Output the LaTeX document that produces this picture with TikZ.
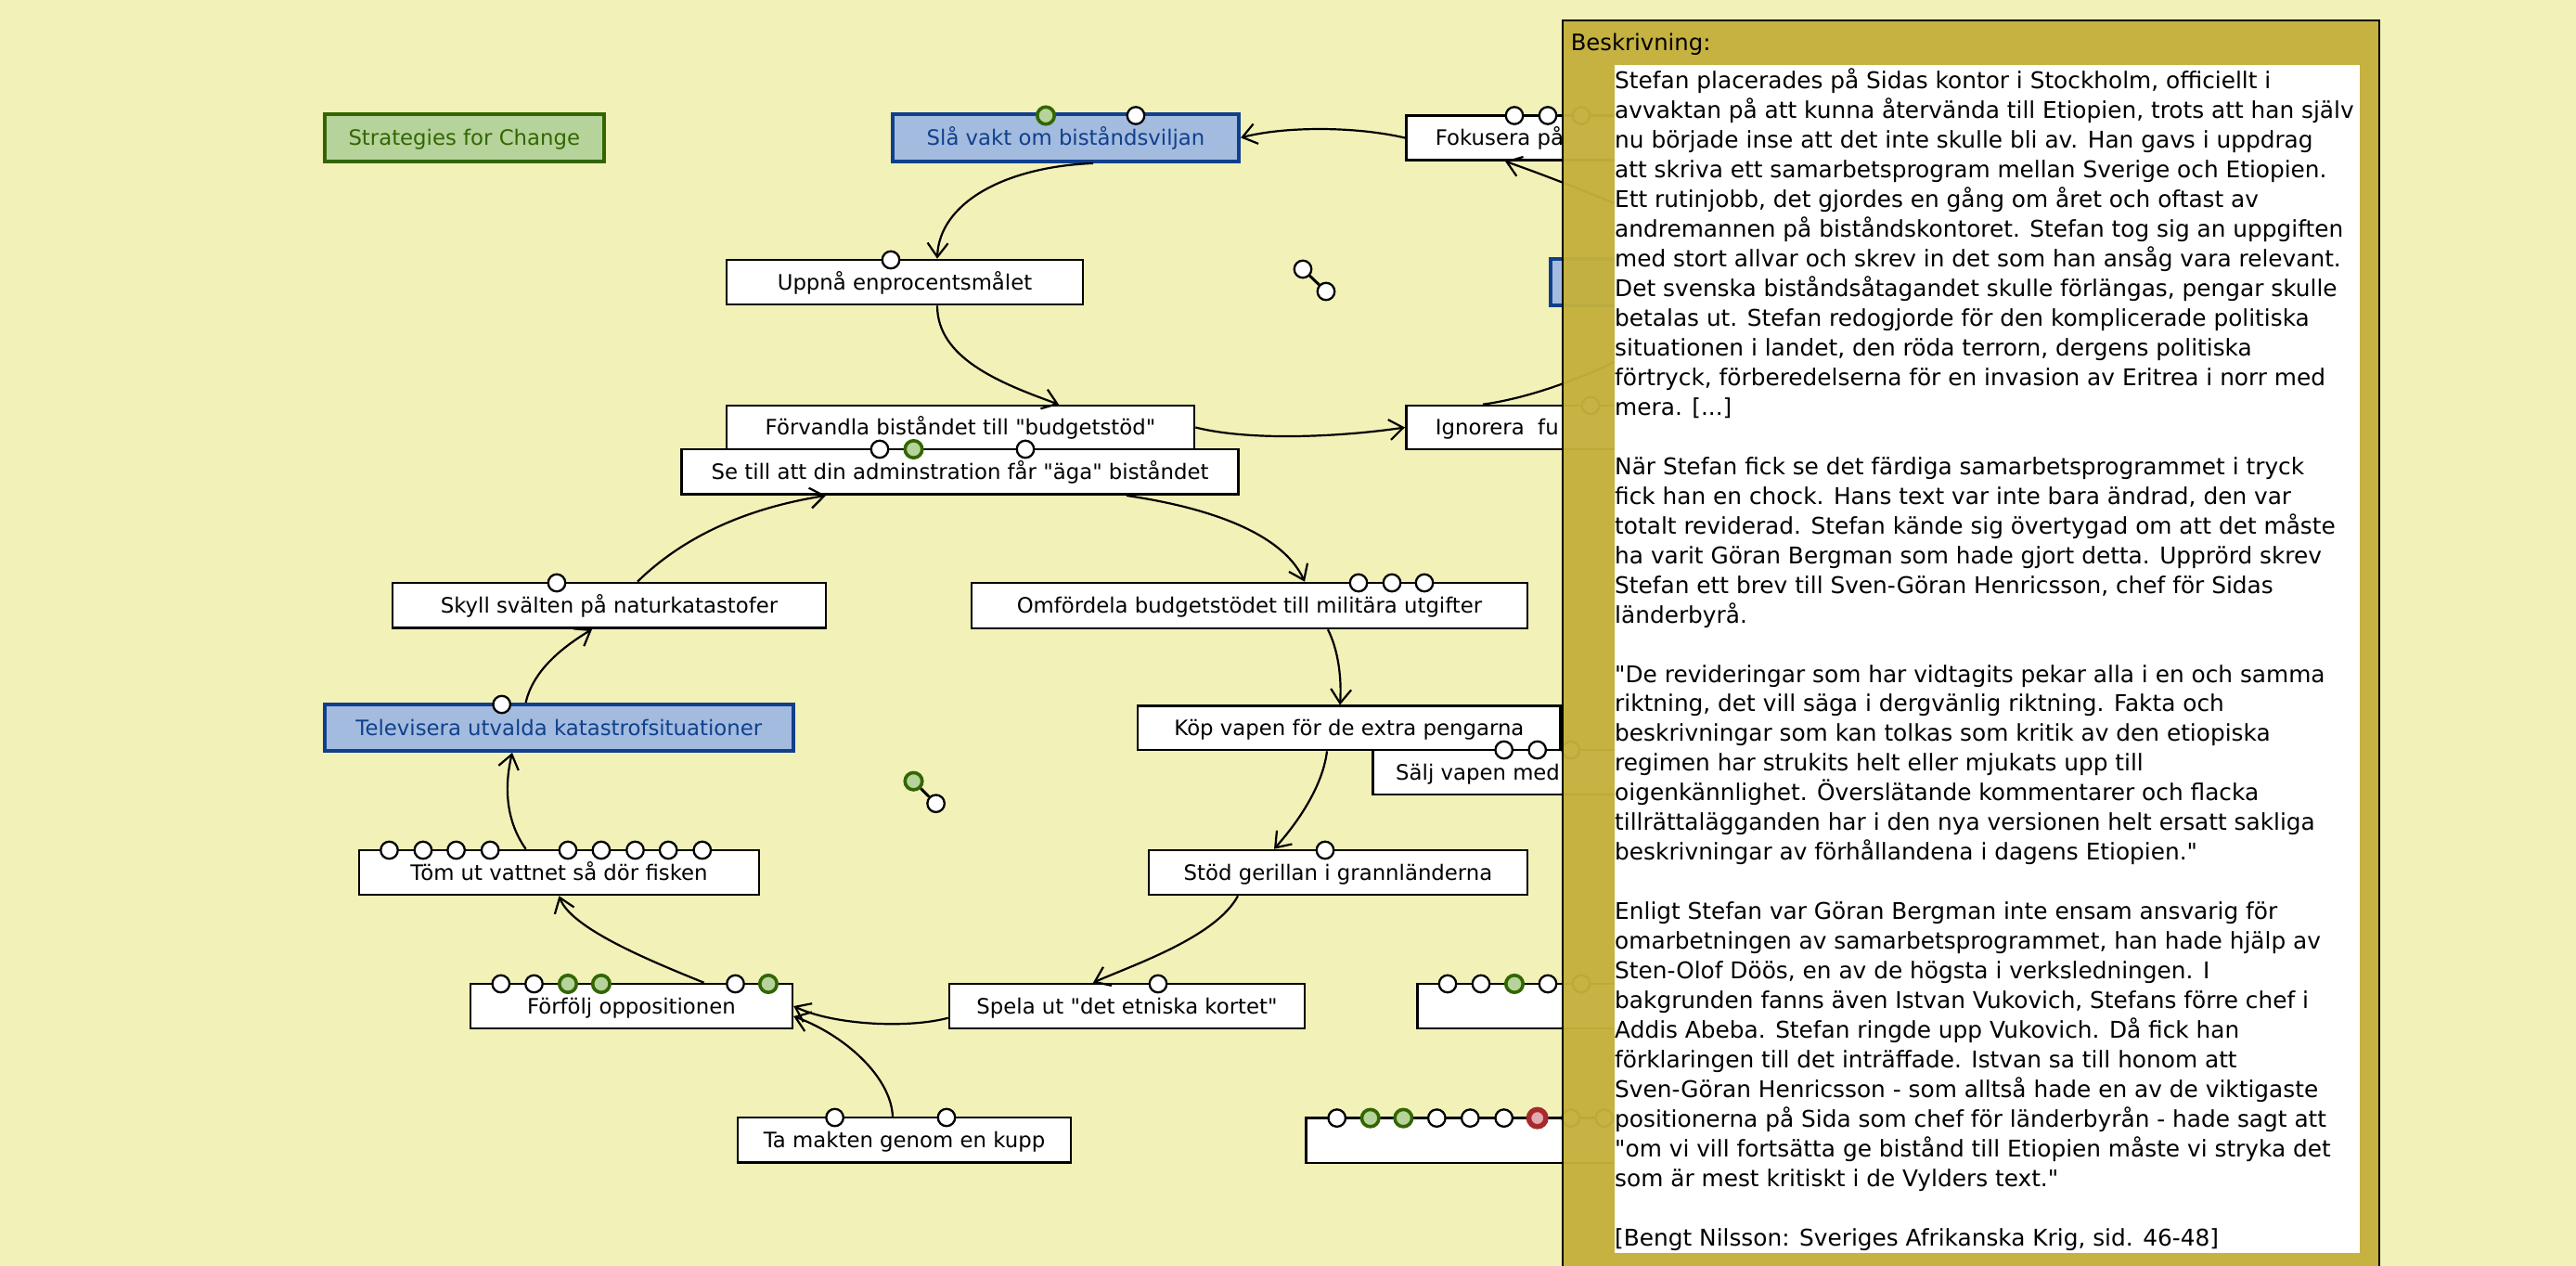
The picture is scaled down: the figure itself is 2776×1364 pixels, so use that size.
\documentclass[tikz,border=0pt]{standalone}
\usepackage{fontspec}
\setmainfont[Ligatures=TeXOff]{DejaVu Sans}
\usetikzlibrary{arrows.meta}
\definecolor{bgc}{RGB}{242,241,184}
\definecolor{panelc}{RGB}{196,176,60}
\definecolor{bluef}{RGB}{163,187,223}
\definecolor{blued}{RGB}{16,64,140}
\definecolor{greenf}{RGB}{181,211,154}
\definecolor{greend}{RGB}{51,102,0}
\definecolor{redd}{RGB}{168,42,42}
\definecolor{redf}{RGB}{226,170,178}
\tikzset{
 boxf/.style={font=\fontsize{22.8}{27}\selectfont},
 wbox/.style={draw=black, line width=2.6pt, fill=white, minimum height=48pt, inner sep=0pt, text height=16.6pt, text depth=0pt, boxf},
 bbox/.style={wbox, draw=blued, fill=bluef, text=blued, line width=4pt},
 gbox/.style={wbox, draw=greend, fill=greenf, text=greend, line width=4pt},
 wc/.style={circle, draw=black, fill=white, line width=2.3pt, minimum size=18.5pt, inner sep=0pt},
 gc/.style={wc, draw=greend, fill=greenf, line width=3.6pt},
 rc/.style={wc, draw=redd, fill=redf, line width=5.5pt},
 conn/.style={draw=black, line width=2.2pt, -{Straight Barb[length=15pt,width=22pt]}},
 plainc/.style={draw=black, line width=2.2pt},
 ptxt/.style={anchor=base west, inner sep=0pt, font=\fontsize{24.8}{30}\selectfont},
 lbl/.style={anchor=west, inner sep=0pt, text height=16.6pt, text depth=0pt, boxf}
}
\begin{document}
\begin{tikzpicture}[x=1pt,y=-1pt]
\useasboundingbox (0,0) rectangle (2776,1364);
\fill[bgc] (0,0) rectangle (2776,1364);

% boxes
\node[gbox, minimum width=301pt, minimum height=51pt] (strat) at (500.3,148.5) {Strategies for Change};
\node[bbox, minimum width=373pt, minimum height=51pt] (slavakt) at (1148.5,148.4) {Slå vakt om biståndsviljan};
\node[wbox, minimum width=440pt, anchor=west] (fokusera) at (1514,148.5) {};
\node[lbl] (fokuseraT) at (1546.7,148.5) {Fokusera på};
\node[bbox, minimum width=300pt, minimum height=50pt, anchor=west] (hidblue) at (1669,304) {};
\node[wbox, minimum width=384pt] (uppna) at (975,304) {Uppnå enprocentsmålet};
\node[wbox, minimum width=504pt, minimum height=47pt] (forvandla) at (1035,460.5) {Förvandla biståndet till "budgetstöd"};
\node[wbox, minimum width=440pt, minimum height=47pt, anchor=west] (ignorera) at (1514,460.5) {};
\node[lbl] (ignoreraT) at (1546.7,460.5) {Ignorera\ \ fu};
\node[wbox, minimum width=600pt, minimum height=48.7pt] (setill) at (1034.5,508.3) {Se till att din adminstration får "äga" biståndet};
\node[wbox, minimum width=467pt, minimum height=48.7pt] (skyll) at (656.5,652.3) {Skyll svälten på naturkatastofer};
\node[wbox, minimum width=599pt, minimum height=49pt] (omfordela) at (1346.5,652.5) {Omfördela budgetstödet till militära utgifter};
\node[bbox, minimum width=505pt, minimum height=50pt] (televisera) at (602.3,784) {Televisera utvalda katastrofsituationer};
\node[wbox, minimum width=455.7pt, minimum height=47.3pt] (kop) at (1453.9,784.4) {Köp vapen för de extra pengarna};
\node[wbox, minimum width=480pt, anchor=west] (salj) at (1478,832) {};
\node[lbl] (saljT) at (1504,832) {Sälj vapen med};
\node[wbox, minimum width=408pt] (stod) at (1442,940) {Stöd gerillan i grannländerna};
\node[wbox, minimum width=431pt] (tom) at (602.5,940) {Töm ut vattnet så dör fisken};
\node[wbox, minimum width=347pt] (forfolj) at (680.4,1084) {Förfölj oppositionen};
\node[wbox, minimum width=383pt] (spela) at (1214.5,1084) {Spela ut "det etniska kortet"};
\node[wbox, minimum width=440pt, anchor=west] (rowbox) at (1526,1084) {};
\node[wbox, minimum width=359pt, minimum height=48.7pt] (tamakten) at (974.5,1228.4) {Ta makten genom en kupp};
\node[wbox, minimum width=540pt, minimum height=48.4pt, anchor=west] (exem) at (1406,1228.8) {};

% circles
\node[gc] (sv1) at (1127,124.5) {};
\node[wc] (sv2) at (1224,124.5) {};
\foreach \x [count=\i] in {1632,1668,1704} \node[wc] (fk\i) at (\x,124.5) {};
\node[wc] (up1) at (960,280) {};
\node[wc] (st1) at (948,484) {};
\node[gc] (st2) at (984.5,484) {};
\node[wc] (st3) at (1105,484) {};
\node[wc] (ig1) at (1714,437) {};
\node[wc] (sk1) at (600,628) {};
\foreach \x [count=\i] in {1464,1500,1535} \node[wc] (om\i) at (\x,628) {};
\node[wc] (tv1) at (540.7,759) {};
\foreach \x [count=\i] in {1620.7,1656.7,1692.7} \node[wc] (sa\i) at (\x,808) {};
\node[wc] (sd1) at (1428,916) {};
\foreach \x [count=\i] in {419.5,455.9,491.6,528.2,612,647.9,684.5,720.2,756.8} \node[wc] (tm\i) at (\x,916) {};
\node[wc] (ff1) at (539.8,1060) {};
\node[wc] (ff2) at (575.5,1060) {};
\node[gc] (ff3) at (612,1060) {};
\node[gc] (ff4) at (647.9,1060) {};
\node[wc] (ff5) at (792.5,1060) {};
\node[gc] (ff6) at (828,1060) {};
\node[wc] (sp1) at (1248,1060) {};
\node[wc] (rb1) at (1560,1060) {};
\node[wc] (rb2) at (1596,1060) {};
\node[gc] (rb3) at (1632,1060) {};
\node[wc] (rb4) at (1668,1060) {};
\node[wc] (rb5) at (1704,1060) {};
\node[wc] (tk1) at (899.6,1204) {};
\node[wc] (tk2) at (1020,1204) {};
\node[wc] (ex1) at (1440.7,1204.6) {};
\node[gc] (ex2) at (1476.7,1204.6) {};
\node[gc] (ex3) at (1512.3,1204.6) {};
\node[wc] (ex4) at (1548.3,1204.6) {};
\node[wc] (ex5) at (1584.3,1204.6) {};
\node[wc] (ex6) at (1620.7,1204.6) {};
\node[rc] (ex7) at (1656.7,1204.6) {};
\node[wc] (ex8) at (1692.7,1204.6) {};
\node[wc] (ex9) at (1728.7,1204.6) {};

% floating pairs
\node[wc] (fa1) at (1404,290) {};
\node[wc] (fa2) at (1429,314) {};
\draw[line width=3pt] (fa1) -- (fa2);
\node[gc] (fb1) at (984.5,841.7) {};
\node[wc] (fb2) at (1008.6,865.7) {};
\draw[line width=3pt] (fb1) -- (fb2);

% hidden ends
\coordinate (hidA) at (1790,240);
\coordinate (hidB) at (1770,375);

% connectors
\draw[conn] (fokusera.west) .. controls (1460,136) and (1385,136) .. (slavakt.east);
\draw[conn] ([xshift=29.5pt]slavakt.south) .. controls (1080,180) and (1012,220) .. ([xshift=35pt]uppna.north);
\draw[conn] ([xshift=35pt]uppna.south) .. controls (1010,385) and (1075,412) .. ([xshift=106pt]forvandla.north);
\draw[conn] (forvandla.east) .. controls (1350,476) and (1450,470) .. (ignorera.west);
\draw[plainc] ([xshift=84pt]ignorera.north west) .. controls (1640,430) and (1700,412) .. (hidB);
\draw[conn] (hidA) .. controls (1720,210) and (1660,187) .. ([xshift=108pt]fokusera.south west);
\draw[conn] ([xshift=179.5pt]setill.south) .. controls (1290,545) and (1380,570) .. ([xshift=59.5pt]omfordela.north);
\draw[conn] ([xshift=30.5pt]skyll.north) .. controls (745,570) and (820,545) .. ([xshift=-144.5pt]setill.south);
\draw[conn] ([xshift=84.5pt]omfordela.south) .. controls (1442,700) and (1446,730) .. ([xshift=-9.9pt]kop.north);
\draw[conn] ([xshift=-35.7pt]televisera.north) .. controls (575,720) and (610,695) .. ([xshift=-18.5pt]skyll.south);
\draw[conn] ([xshift=-23.9pt]kop.south) .. controls (1425,850) and (1395,890) .. ([xshift=-69pt]stod.north);
\draw[conn] ([xshift=-35.9pt]tom.north) .. controls (542,880) and (545,840) .. ([xshift=-50.3pt]televisera.south);
\draw[conn] ([xshift=78.2pt]forfolj.north) .. controls (700,1035) and (615,1000) .. (tom.south);
\draw[conn] ([xshift=-108pt]stod.south) .. controls (1310,1010) and (1220,1040) .. ([xshift=-36.5pt]spela.north);
\draw[conn] ([yshift=-12.7pt]spela.west) .. controls (980,1108) and (900,1105) .. (forfolj.east);
\draw[conn] ([xshift=-12.5pt]tamakten.north) .. controls (960,1160) and (910,1115) .. ([yshift=-11pt]forfolj.east);

% description panel
\node[draw=black, line width=2pt, fill=panelc, fill opacity=0.96, minimum width=880pt, minimum height=1380pt, anchor=north west, inner sep=0pt] (panel) at (1683,20.7) {};
\node[fill=white, minimum width=803pt, minimum height=1280pt, anchor=north west, inner sep=0pt] (textarea) at (1740,70) {};
\node[ptxt, font=\fontsize{24.3}{30}\selectfont] (beskr) at (1692.6,55) {Beskrivning:};
\foreach \k/\t in {
1/{Stefan placerades på Sidas kontor i Stockholm, officiellt i},
2/{avvaktan på att kunna återvända till Etiopien, trots att han själv},
3/{nu började inse att det inte skulle bli av. Han gavs i uppdrag},
4/{att skriva ett samarbetsprogram mellan Sverige och Etiopien.},
5/{Ett rutinjobb, det gjordes en gång om året och oftast av},
6/{andremannen på biståndskontoret. Stefan tog sig an uppgiften},
7/{med stort allvar och skrev in det som han ansåg vara relevant.},
8/{Det svenska biståndsåtagandet skulle förlängas, pengar skulle},
9/{betalas ut. Stefan redogjorde för den komplicerade politiska},
10/{situationen i landet, den röda terrorn, dergens politiska},
11/{förtryck, förberedelserna för en invasion av Eritrea i norr med},
12/{mera. [...]},
14/{När Stefan fick se det färdiga samarbetsprogrammet i tryck},
15/{fick han en chock. Hans text var inte bara ändrad, den var},
16/{totalt reviderad. Stefan kände sig övertygad om att det måste},
17/{ha varit Göran Bergman som hade gjort detta. Upprörd skrev},
18/{Stefan ett brev till Sven-Göran Henricsson, chef för Sidas},
19/{länderbyrå.},
21/{"De revideringar som har vidtagits pekar alla i en och samma},
22/{riktning, det vill säga i dergvänlig riktning. Fakta och},
23/{beskrivningar som kan tolkas som kritik av den etiopiska},
24/{regimen har strukits helt eller mjukats upp till},
25/{oigenkännlighet. Överslätande kommentarer och flacka},
26/{tillrättalägganden har i den nya versionen helt ersatt sakliga},
27/{beskrivningar av förhållandena i dagens Etiopien."},
29/{Enligt Stefan var Göran Bergman inte ensam ansvarig för},
30/{omarbetningen av samarbetsprogrammet, han hade hjälp av},
31/{Sten-Olof Döös, en av de högsta i verksledningen. I},
32/{bakgrunden fanns även Istvan Vukovich, Stefans förre chef i},
33/{Addis Abeba. Stefan ringde upp Vukovich. Då fick han},
34/{förklaringen till det inträffade. Istvan sa till honom att},
35/{Sven-Göran Henricsson - som alltså hade en av de viktigaste},
36/{positionerna på Sida som chef för länderbyrån - hade sagt att},
37/{"om vi vill fortsätta ge bistånd till Etiopien måste vi stryka det},
38/{som är mest kritiskt i de Vylders text."},
40/{[Bengt Nilsson: Sveriges Afrikanska Krig, sid. 46-48]}}
  \node[ptxt] (pl\k) at (1740,{96+31.95*(\k-1)}) {\t};
\end{tikzpicture}
\end{document}
